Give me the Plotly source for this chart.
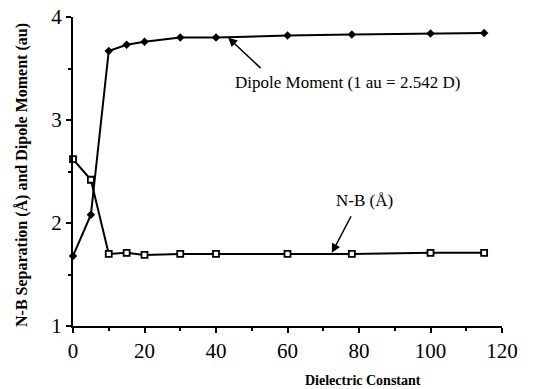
import plotly.graph_objects as go

dielectric = [0, 5, 10, 15, 20, 30, 40, 60, 78, 100, 115]
dipole_moment = [1.68, 2.08, 3.67, 3.73, 3.76, 3.80, 3.80, 3.82, 3.83, 3.84, 3.845]
nb_separation = [2.62, 2.42, 1.70, 1.71, 1.69, 1.70, 1.70, 1.70, 1.70, 1.71, 1.71]

x_ticks = [0, 20, 40, 60, 80, 100, 120]
y_ticks = [1, 2, 3, 4]

serif = "Liberation Serif, Times New Roman, serif"

fig = go.Figure()
fig.add_trace(go.Scatter(
    x=dielectric, y=dipole_moment, mode="lines+markers",
    line=dict(color="black", width=2),
    marker=dict(symbol="diamond", size=6.5, color="black"),
    cliponaxis=False, showlegend=False))
fig.add_trace(go.Scatter(
    x=dielectric, y=nb_separation, mode="lines+markers",
    line=dict(color="black", width=2),
    marker=dict(symbol="square", size=6, color="white", line=dict(color="black", width=1.8)),
    cliponaxis=False, showlegend=False))

fig.add_annotation(x=43.4, y=3.80, ax=52.9, ay=3.49, xref="x", yref="y", axref="x", ayref="y",
                   text="", showarrow=True, arrowhead=2, arrowsize=1.2, arrowwidth=1.5, arrowcolor="black")
fig.add_annotation(x=72.4, y=1.71, ax=78.0, ay=2.08, xref="x", yref="y", axref="x", ayref="y",
                   text="", showarrow=True, arrowhead=2, arrowsize=1.2, arrowwidth=1.5, arrowcolor="black")
fig.add_annotation(x=76.9, y=3.36, xref="x", yref="y", text="Dipole Moment (1 au = 2.542 D)",
                   showarrow=False, xanchor="center", font=dict(family=serif, size=17, color="black"))
fig.add_annotation(x=81.4, y=2.22, xref="x", yref="y", text="N-B (Å)",
                   showarrow=False, xanchor="center", font=dict(family=serif, size=17, color="black"))
# plot area in page pixels: x 73..502, y 17..326
fig.add_annotation(x=(363 - 73) / 429, y=(326 - 380) / 309, xref="paper", yref="paper",
                   text="<b>Dielectric Constant</b>", showarrow=False,
                   xanchor="center", yanchor="middle",
                   font=dict(family=serif, size=14, color="black"))
fig.add_annotation(x=(22 - 73) / 429, y=(326 - 175) / 309, xref="paper", yref="paper",
                   text="<b>N-B Separation (Å) and Dipole Moment (au)</b>", textangle=-90,
                   showarrow=False, xanchor="center", yanchor="middle",
                   font=dict(family=serif, size=16, color="black"))

fig.update_layout(
    width=533, height=389,
    margin=dict(l=73, r=31, t=17, b=63),
    paper_bgcolor="white", plot_bgcolor="white",
    font=dict(family=serif, color="black"),
)
fig.update_xaxes(range=[0, 120], tickvals=x_ticks, showgrid=False, zeroline=False,
                 automargin=False, ticklabeloverflow="allow",
                 showline=True, linecolor="black", linewidth=2,
                 ticks="outside", ticklen=5, tickwidth=1.5, tickcolor="black",
                 tickfont=dict(family=serif, size=21),
                 minor=dict(dtick=10, ticks="outside", ticklen=3, tickcolor="black", showgrid=False))
fig.update_yaxes(range=[1, 4], tickvals=y_ticks, showgrid=False, zeroline=False,
                 automargin=False, ticklabeloverflow="allow",
                 showline=True, linecolor="black", linewidth=2,
                 ticks="outside", ticklen=5, tickwidth=1.5, tickcolor="black",
                 tickfont=dict(family=serif, size=21),
                 minor=dict(dtick=0.5, ticks="outside", ticklen=3, tickcolor="black", showgrid=False))

fig.write_html("out.html", config={"displayModeBar": False},
               post_script="document.body.style.margin='0px';")
